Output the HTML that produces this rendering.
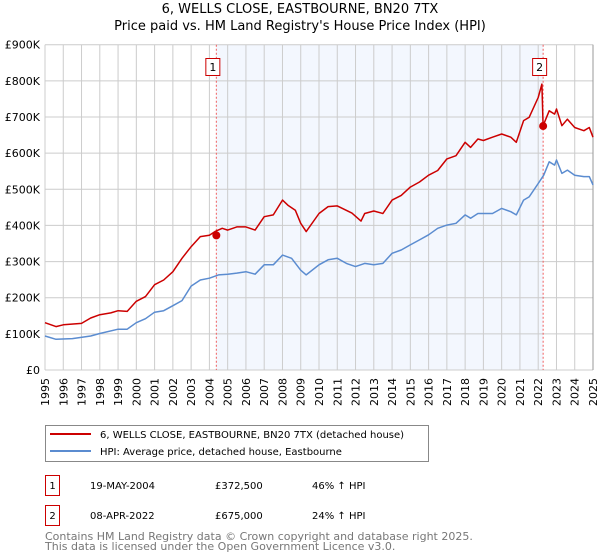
<!DOCTYPE html>
<html><head><meta charset="utf-8"><style>
body{margin:0;background:#fff;font-family:"DejaVu Sans","Liberation Sans",sans-serif;}
svg{display:block}
</style></head><body>
<svg width="600" height="560" xmlns="http://www.w3.org/2000/svg" font-family="DejaVu Sans, Liberation Sans, sans-serif">
<text x="300" y="13" text-anchor="middle" font-size="13" fill="#000">6, WELLS CLOSE, EASTBOURNE, BN20 7TX</text>
<text x="300" y="30" text-anchor="middle" font-size="13" fill="#000">Price paid vs. HM Land Registry's House Price Index (HPI)</text>
<g id="plot"></g>
<g>
<rect x="45.5" y="425.5" width="383" height="36" fill="#fff" stroke="#888"/>
<line x1="50" y1="434" x2="91" y2="434" stroke="#cc0000" stroke-width="2"/>
<text x="100" y="438" font-size="10">6, WELLS CLOSE, EASTBOURNE, BN20 7TX (detached house)</text>
<line x1="50" y1="451" x2="91" y2="451" stroke="#5b8cd0" stroke-width="2"/>
<text x="100" y="455" font-size="10">HPI: Average price, detached house, Eastbourne</text>
</g>
<g font-size="10">
<rect x="45.5" y="475.5" width="14" height="20" fill="#fff" stroke="#cc0000"/>
<text x="52.5" y="489" text-anchor="middle">1</text>
<text x="90" y="489">19-MAY-2004</text><text x="215" y="489">£372,500</text><text x="312" y="489">46% ↑ HPI</text>
<rect x="45.5" y="505.5" width="14" height="20" fill="#fff" stroke="#cc0000"/>
<text x="52.5" y="519" text-anchor="middle">2</text>
<text x="90" y="519">08-APR-2022</text><text x="215" y="519">£675,000</text><text x="312" y="519">24% ↑ HPI</text>
</g>
<text x="45" y="540" font-size="11" fill="#777">Contains HM Land Registry data © Crown copyright and database right 2025.</text>
<text x="45" y="550" font-size="11" fill="#777">This data is licensed under the Open Government Licence v3.0.</text>
</svg>
<script>
const priceYears=[1995,1995.6,1996,1997,1997.5,1998,1998.6,1999,1999.5,2000,2000.5,2001,2001.5,2002,2002.5,2003,2003.5,2004,2004.3,2004.7,2005,2005.5,2006,2006.5,2007,2007.5,2008,2008.3,2008.7,2009,2009.3,2010,2010.5,2011,2011.8,2012.3,2012.5,2013,2013.5,2014,2014.5,2015,2015.5,2016,2016.5,2017,2017.5,2018,2018.3,2018.7,2019,2019.5,2020,2020.5,2020.8,2021.2,2021.5,2022,2022.2,2022.27,2022.6,2022.9,2023,2023.3,2023.6,2024,2024.5,2024.8,2025];
const priceValues=[131,120,125,129,144,153,158,164,162,190,203,236,249,272,309,341,369,373,383,392,387,396,396,387,424,429,470,456,442,406,383,433,452,454,434,412,433,440,433,470,483,506,520,539,552,584,593,630,616,639,635,644,653,644,630,690,699,754,791,676,717,708,722,676,694,671,662,671,644];
const hpiYears=[1995,1995.6,1996.5,1997.5,1998,1999,1999.5,2000,2000.5,2001,2001.5,2002,2002.5,2003,2003.5,2004,2004.5,2005,2005.5,2006,2006.5,2007,2007.5,2008,2008.5,2009,2009.3,2010,2010.5,2011,2011.5,2012,2012.5,2013,2013.5,2014,2014.5,2015,2015.5,2016,2016.5,2017,2017.5,2018,2018.3,2018.7,2019,2019.5,2020,2020.5,2020.8,2021.2,2021.5,2022,2022.3,2022.6,2022.9,2023,2023.3,2023.6,2024,2024.5,2024.8,2025];
const hpiValues=[94,85,87,94,101,113,113,131,142,160,164,178,192,232,249,254,263,265,268,272,265,291,291,318,309,276,263,291,305,309,295,286,295,291,295,323,332,346,360,374,392,401,406,429,420,433,433,433,447,438,429,470,479,516,539,576,567,581,544,553,539,535,535,512];
const saleLabels=["1","2"];
const saleYears=[2004.38,2022.27];
const saleValues=[372.5,675];
const yTicks=[0,100,200,300,400,500,600,700,800,900];
const yTickLabels=["£0","£100K","£200K","£300K","£400K","£500K","£600K","£700K","£800K","£900K"];
const xTicks=[1995,1996,1997,1998,1999,2000,2001,2002,2003,2004,2005,2006,2007,2008,2009,2010,2011,2012,2013,2014,2015,2016,2017,2018,2019,2020,2021,2022,2023,2024,2025];

const X0=45,X1=593,Y0=370,Y1=44.7;
const xs=y=>X0+(y-1995)/30*(X1-X0);
const ys=v=>Y0-v/900*(Y0-Y1);
const NS="http://www.w3.org/2000/svg";
const g=document.getElementById('plot');
function mk(t,a){const e=document.createElementNS(NS,t);for(const k in a)e.setAttribute(k,a[k]);g.appendChild(e);return e;}
let e;
e=mk('rect',{x:X0,y:Y1,width:X1-X0,height:Y0-Y1,fill:'#fff'});


e=mk('rect',{x:xs(saleYears[0]),y:Y1,width:xs(saleYears[1])-xs(saleYears[0]),height:Y0-Y1,fill:'#f3f7fe'});


xTicks.forEach(t=>{
 const l=mk('line',{x1:xs(t),x2:xs(t),y1:Y1,y2:Y0,stroke:'#ccc','stroke-width':1});
 
 
 const tx=mk('text',{x:0,y:0,'font-size':11,'text-anchor':'end',transform:`translate(${xs(t)+4},${Y0+8}) rotate(-90)`});
 tx.textContent=t;
 
 
});
yTicks.forEach((t,i)=>{
 const l=mk('line',{x1:X0,x2:X1,y1:ys(t),y2:ys(t),stroke:'#ccc','stroke-width':1});
 
 
 const tx=mk('text',{x:40,y:ys(t)+4,'font-size':11,'text-anchor':'end'});
 tx.textContent=yTickLabels[i];
 
 
});
e=mk('line',{x1:X1,x2:X1,y1:Y1,y2:Y0,stroke:'#999','stroke-width':1});


saleYears.forEach((y,i)=>{
 const l=mk('line',{x1:xs(y),x2:xs(y),y1:Y1,y2:Y0,stroke:'#f06060','stroke-width':1,'stroke-dasharray':'2,2'});
 
 
});
function path(xa,va,col,name){
 const d=xa.map((y,i)=>(i?'L':'M')+xs(y).toFixed(1)+','+ys(va[i]).toFixed(1)).join('');
 const p=mk('path',{d:d,fill:'none',stroke:col,'stroke-width':1.5,'stroke-linejoin':'round'});
 
 
}
path(hpiYears,hpiValues,'#5b8cd0','hpi-line');
path(priceYears,priceValues,'#cc0000','price-line');
saleYears.forEach((y,i)=>{
 const c=mk('circle',{cx:xs(y),cy:ys(saleValues[i]),r:4,fill:'#cc0000'});
 
 
 const bx=xs(y)-4-7;
 const r=mk('rect',{x:bx+0.5,y:58.5,width:14,height:17,fill:'#fff',stroke:'#cc0000'});
 
 
 const t=mk('text',{x:bx+7.5,y:71,'font-size':11,'text-anchor':'middle'});
 t.textContent=saleLabels[i];
 
 
});
</script>
</body></html>
